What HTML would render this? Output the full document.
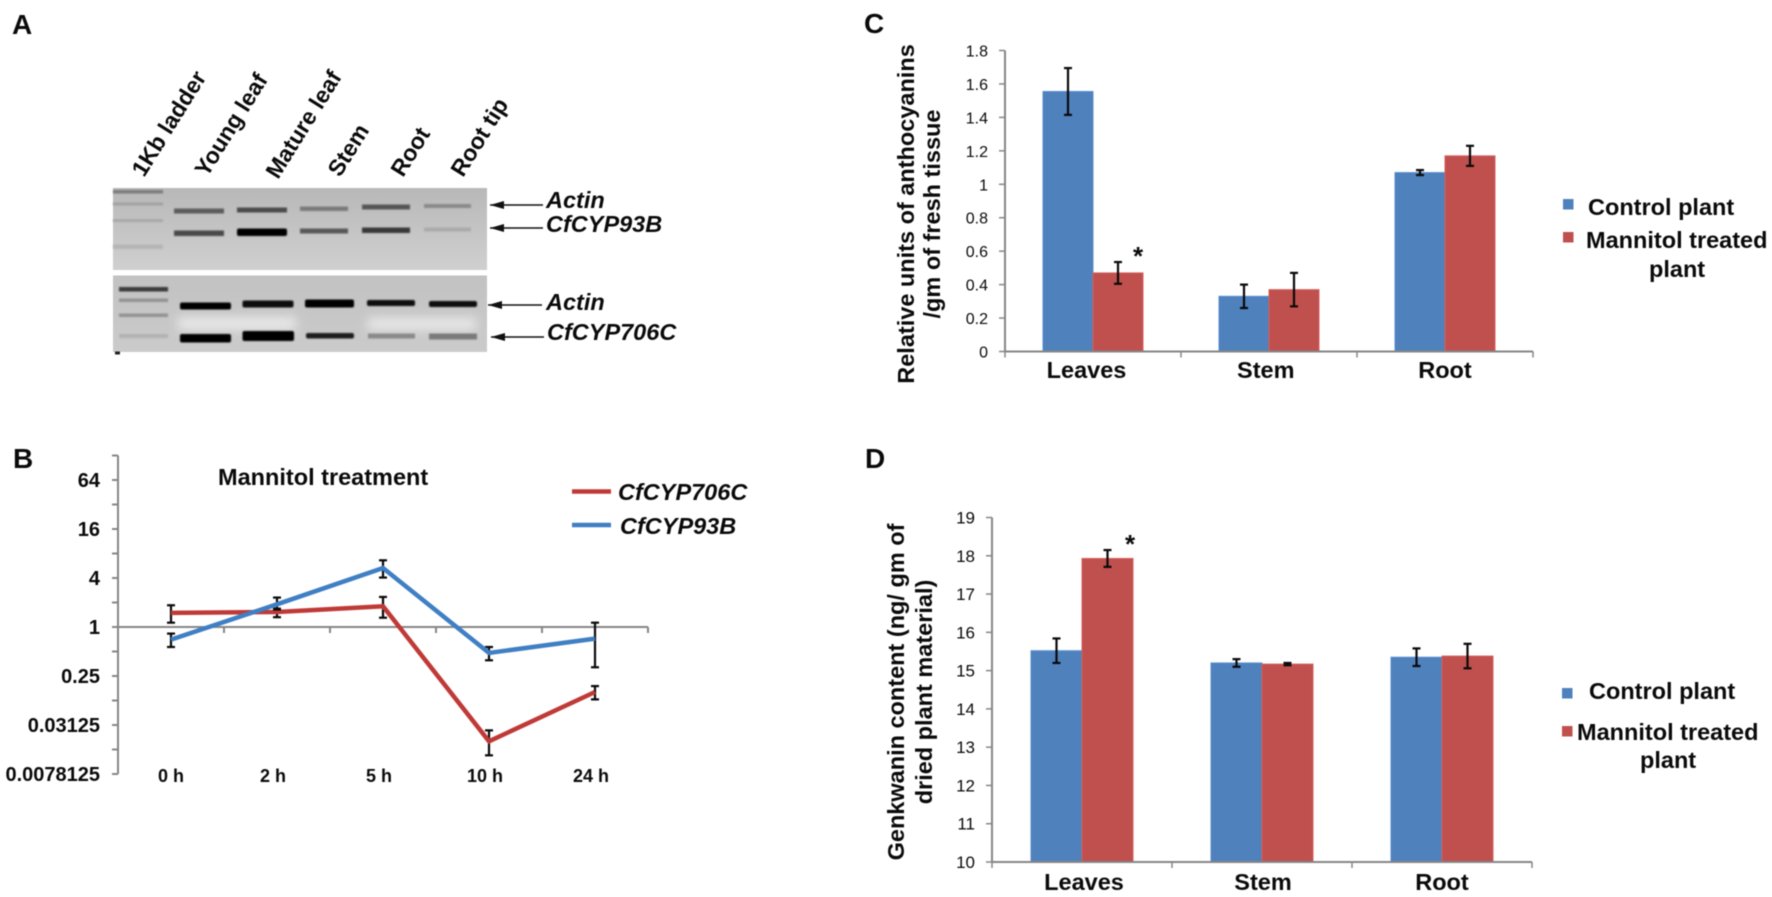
<!DOCTYPE html>
<html lang="en">
<head>
<meta charset="utf-8">
<title>Figure panels A-D</title>
<style>
html,body{margin:0;padding:0;background:#fff;width:1772px;height:897px;overflow:hidden}
svg{display:block;filter:blur(0.45px)}
text{font-family:"Liberation Sans",sans-serif;fill:#0a0a0a}
.b{font-weight:bold}
.bi{font-weight:bold;font-style:italic}
</style>
</head>
<body>
<svg id="fig" xmlns="http://www.w3.org/2000/svg" width="1772" height="897" viewBox="0 0 1772 897">
<defs>
<linearGradient id="gelTop" x1="0" y1="0" x2="0" y2="1"><stop offset="0" stop-color="#b8b8b8"/><stop offset="0.5" stop-color="#c4c4c4"/><stop offset="1" stop-color="#d0d0d0"/></linearGradient>
<linearGradient id="gelBot" x1="0" y1="0" x2="0" y2="1"><stop offset="0" stop-color="#c2c2c2"/><stop offset="1" stop-color="#cbcbcb"/></linearGradient>
<filter id="soft" x="-10%" y="-100%" width="120%" height="300%"><feGaussianBlur stdDeviation="0.8"/></filter>
<filter id="softer" x="-30%" y="-100%" width="160%" height="300%"><feGaussianBlur stdDeviation="5"/></filter>
<marker id="arrowHead" viewBox="0 0 14 8" refX="0" refY="4" markerWidth="14" markerHeight="8" markerUnits="userSpaceOnUse" orient="0"><path d="M0 4L14 0V8Z" fill="#111"/></marker>
</defs>

<g>
<text class="b" x="12" y="34" font-size="28">A</text>
<g font-size="23" class="b">
<text transform="translate(144,178) rotate(-58)">1Kb ladder</text>
<text transform="translate(207,178) rotate(-58)">Young leaf</text>
<text transform="translate(278,180) rotate(-58)">Mature leaf</text>
<text transform="translate(340,178) rotate(-58)">Stem</text>
<text transform="translate(403,178) rotate(-58)">Root</text>
<text transform="translate(463,178) rotate(-58)">Root tip</text>
</g>
<g>
<rect x="113" y="188" width="374" height="82" fill="url(#gelTop)"/>
<g filter="url(#soft)">
<rect x="113" y="190" width="50" height="3.5" fill="#7d7d7d"/>
<rect x="113" y="202.5" width="50" height="3" fill="#a2a2a2"/>
<rect x="113" y="219" width="50" height="3" fill="#a8a8a8"/>
<rect x="113" y="244.5" width="50" height="4.5" fill="#b6b6b6"/>
</g>
<g filter="url(#soft)">
<rect x="174" y="208.5" width="50" height="5" fill="#5c5c5c"/>
<rect x="237" y="207.5" width="50" height="5" fill="#4c4c4c"/>
<rect x="300" y="206.5" width="48" height="4.5" fill="#7a7a7a"/>
<rect x="362" y="204.5" width="48" height="5" fill="#555"/>
<rect x="424" y="204" width="47" height="4" fill="#8a8a8a"/>
</g>
<g filter="url(#soft)">
<rect x="174" y="230.5" width="50" height="5.5" fill="#4a4a4a"/>
<rect x="237" y="228.5" width="50" height="7.5" rx="2" fill="#060606"/>
<rect x="300" y="228.5" width="48" height="5" fill="#585858"/>
<rect x="362" y="227.5" width="48" height="5.5" fill="#383838"/>
<rect x="424" y="227.5" width="47" height="4" fill="#aaaaaa"/>
</g>
</g>
<g>
<rect x="113" y="275.5" width="374" height="76.5" fill="url(#gelBot)"/>
<g filter="url(#softer)" fill="#e8e8e8">
<rect x="178" y="317" width="118" height="13"/>
<rect x="368" y="318" width="108" height="12"/>
</g>
<g filter="url(#soft)">
<rect x="119" y="287" width="49" height="4.5" fill="#3a3a3a"/>
<rect x="119" y="298.5" width="49" height="3.5" fill="#939393"/>
<rect x="119" y="313.5" width="49" height="3.5" fill="#939393"/>
<rect x="119" y="334" width="49" height="4" fill="#b2b2b2"/>
</g>
<g filter="url(#soft)">
<rect x="180" y="302.5" width="51" height="7" rx="2" fill="#050505"/>
<rect x="242.5" y="300.5" width="51" height="7" rx="2" fill="#080808"/>
<rect x="305" y="299.5" width="49" height="8" rx="2" fill="#050505"/>
<rect x="367" y="300" width="48" height="6" rx="2" fill="#080808"/>
<rect x="429" y="301" width="48" height="6" rx="2" fill="#0c0c0c"/>
</g>
<g filter="url(#soft)">
<rect x="180" y="334" width="51" height="8.5" rx="2" fill="#030303"/>
<rect x="242.5" y="331" width="51.5" height="10" rx="2" fill="#030303"/>
<rect x="306" y="333" width="48" height="5.5" rx="2" fill="#1c1c1c"/>
<rect x="368" y="333.5" width="47" height="5" fill="#8a8a8a"/>
<rect x="429" y="333.5" width="48" height="6" fill="#7a7a7a"/>
</g>
<rect x="115" y="351.5" width="5" height="3" fill="#222"/>
</g>
<g stroke="#111" stroke-width="1.6">
<line x1="543" y1="205" x2="490" y2="205" marker-end="url(#arrowHead)"/>
<line x1="543" y1="228" x2="490" y2="228" marker-end="url(#arrowHead)"/>
<line x1="542" y1="305" x2="488" y2="305" marker-end="url(#arrowHead)"/>
<line x1="544" y1="337" x2="491" y2="337" marker-end="url(#arrowHead)"/>
</g>
<g class="bi" font-size="23.5">
<text x="546" y="208">Actin</text>
<text x="546" y="232">CfCYP93B</text>
<text x="546" y="310">Actin</text>
<text x="547" y="340">CfCYP706C</text>
</g>
</g>
</svg>
<script>
/* ---------- Panel B data ---------- */
const bCategories = ['0 h', '2 h', '5 h', '10 h', '24 h'];
const bSeriesRedName = 'CfCYP706C';
const bSeriesBlueName = 'CfCYP93B';
const bRedValues = [1.49, 1.53, 1.8, 0.0394, 0.159];
const bRedHigh = [1.85, 1.68, 2.34, 0.0537, 0.188];
const bRedLow = [1.13, 1.32, 1.30, 0.0265, 0.129];
const bBlueValues = [0.70, 1.9, 5.3, 0.48, 0.72];
const bBlueHigh = [0.83, 2.3, 6.6, 0.568, 1.13];
const bBlueLow = [0.568, 1.64, 4.05, 0.39, 0.32];
/* the printed labels follow the base-4 gridlines of the original axis */
const bTickExponents = [3, 2, 1, 0, -1, -2, -3];
const bTickLabels = ['64', '16', '4', '1', '0.25', '0.03125', '0.0078125'];

/* ---------- Panel C data ---------- */
const cCategories = ['Leaves', 'Stem', 'Root'];
const cControl = [1.555, 0.33, 1.07];
const cTreated = [0.47, 0.37, 1.17];
const cControlErr = [0.14, 0.07, 0.015];
const cTreatedErr = [0.065, 0.1, 0.06];
const cTicks = [0, 0.2, 0.4, 0.6, 0.8, 1, 1.2, 1.4, 1.6, 1.8];

/* ---------- Panel D data ---------- */
const dCategories = ['Leaves', 'Stem', 'Root'];
const dControl = [15.52, 15.2, 15.35];
const dTreated = [17.93, 15.17, 15.38];
const dControlErr = [0.32, 0.1, 0.23];
const dTreatedErr = [0.22, 0.03, 0.32];
const dTicks = [10, 11, 12, 13, 14, 15, 16, 17, 18, 19];

const NS = 'http://www.w3.org/2000/svg';
const fig = document.getElementById('fig');
function add(parent, tag, attrs, txt) {
  const el = document.createElementNS(NS, tag);
  for (const k in attrs) el.setAttribute(k, attrs[k]);
  if (txt !== undefined) el.textContent = txt;
  parent.appendChild(el);
  return el;
}
const AXIS = '#868686';
const BLUE = '#4f81bd';
const RED = '#c0504d';

function errorBar(parent, x, yHi, yLo, cap, name) {
  const g = add(parent, 'g', {stroke: '#0a0a0a', 'stroke-width': 2.2});
  
  
  const stem = add(g, 'line', {x1: x, x2: x, y1: yHi, y2: yLo});
  
  
  const top = add(g, 'line', {x1: x - cap, x2: x + cap, y1: yHi, y2: yHi});
  
  
  const bot = add(g, 'line', {x1: x - cap, x2: x + cap, y1: yLo, y2: yLo});
  
  
}

/* ---------- Panel B ---------- */
(function () {
  const panel = add(fig, 'g', {});
  
  
  const letter = add(panel, 'text', {x: 13, y: 468, 'font-size': 28, class: 'b'}, 'B');
  
  
  const title = add(panel, 'text', {x: 218, y: 485, 'font-size': 23.5, class: 'b'}, 'Mannitol treatment');
  
  

  const x0 = 118, catW = 106, yOne = 627, perStep = 49;
  const xPos = i => x0 + catW * (i + 0.5);
  const yExp = e => yOne - perStep * e;
  const yVal = v => yExp(Math.log(v) / Math.log(4));

  const yAxis = add(panel, 'line', {x1: x0, x2: x0, y1: yExp(3.5), y2: yExp(-3), stroke: AXIS, 'stroke-width': 2});
  
  
  const xAxis = add(panel, 'line', {x1: x0, x2: x0 + catW * bCategories.length, y1: yOne, y2: yOne, stroke: AXIS, 'stroke-width': 2});
  
  

  bTickExponents.forEach((e, i) => {
    const t = add(panel, 'line', {x1: x0 - 6, x2: x0, y1: yExp(e), y2: yExp(e), stroke: AXIS, 'stroke-width': 2});
    
    
    const m = add(panel, 'line', {x1: x0 - 6, x2: x0, y1: yExp(e + 0.5), y2: yExp(e + 0.5), stroke: AXIS, 'stroke-width': 2});
    
    
    const l = add(panel, 'text', {x: 100, y: yExp(e) + 7, 'text-anchor': 'end', 'font-size': 20, class: 'b'}, bTickLabels[i]);
    
    
  });
  for (let i = 1; i <= bCategories.length; i++) {
    const t = add(panel, 'line', {x1: x0 + catW * i, x2: x0 + catW * i, y1: yOne, y2: yOne + 6, stroke: AXIS, 'stroke-width': 2});
    
    
  }
  bCategories.forEach((c, i) => {
    const l = add(panel, 'text', {x: xPos(i) - (i > 0 ? 4 : 0), y: 782, 'text-anchor': 'middle', 'font-size': 18, class: 'b'}, c);
    
    
  });

  function series(vals, hi, lo, color, name) {
    const g = add(panel, 'g', {});
    
    
    vals.forEach((v, i) => errorBar(g, xPos(i), yVal(hi[i]), yVal(lo[i]), 4, 'error-bar'));
    const line = add(g, 'polyline', {
      points: vals.map((v, i) => xPos(i) + ',' + yVal(v)).join(' '),
      fill: 'none', stroke: color, 'stroke-width': 4.5, 'stroke-linejoin': 'miter'
    });
    
    
  }
  series(bRedValues, bRedHigh, bRedLow, '#bf3a37', 'series-cfcyp706c');
  series(bBlueValues, bBlueHigh, bBlueLow, '#3f7fc4', 'series-cfcyp93b');

  const r = add(panel, 'line', {x1: 572, x2: 611, y1: 491.5, y2: 491.5, stroke: '#bf3a37', 'stroke-width': 4.5});
  
  
  const rt = add(panel, 'text', {x: 618, y: 500, 'font-size': 23.5, class: 'bi'}, bSeriesRedName);
  
  
  const b = add(panel, 'line', {x1: 572, x2: 611, y1: 525, y2: 525, stroke: '#3f7fc4', 'stroke-width': 4.5});
  
  
  const bt = add(panel, 'text', {x: 620, y: 534, 'font-size': 23.5, class: 'bi'}, bSeriesBlueName);
  
  
})();

/* ---------- Bar panels C and D ---------- */
function barPanel(o) {
  const panel = add(fig, 'g', {});
  
  
  const letter = add(panel, 'text', {x: o.letterX, y: o.letterY, 'font-size': 28, class: 'b'}, o.letter);
  
  

  const yMin = o.ticks[0], yMax = o.ticks[o.ticks.length - 1];
  const y = v => o.yBottom - (v - yMin) * (o.yBottom - o.yTop) / (yMax - yMin);
  const cx = i => o.x0 + o.catW * (i + 0.5);

  o.ticks.forEach(t => {
    const tk = add(panel, 'line', {x1: o.x0 - 6, x2: o.x0, y1: y(t), y2: y(t), stroke: AXIS, 'stroke-width': 1.5});
    
    
    const l = add(panel, 'text', {x: o.x0 - 17, y: y(t) + 6, 'text-anchor': 'end', 'font-size': o.tickSize}, String(t));
    
    
  });

  o.categories.forEach((c, i) => {
    const b1 = add(panel, 'rect', {x: cx(i) - o.barW, y: y(o.control[i]), width: o.barW, height: y(yMin) - y(o.control[i]), fill: BLUE, stroke: '#5a8fd0', 'stroke-width': 1});
    
    
    const b2 = add(panel, 'rect', {x: cx(i), y: y(o.treated[i]), width: o.barW, height: y(yMin) - y(o.treated[i]), fill: RED, stroke: '#d4605c', 'stroke-width': 1});
    
    
    errorBar(panel, cx(i) - o.barW / 2, y(o.control[i] + o.controlErr[i]), y(o.control[i] - o.controlErr[i]), 4, 'error-bar-control');
    errorBar(panel, cx(i) + o.barW / 2, y(o.treated[i] + o.treatedErr[i]), y(o.treated[i] - o.treatedErr[i]), 4, 'error-bar-treated');
    const l = add(panel, 'text', {x: cx(i) + o.catNudge * (2 - i) / 2, y: o.catY, 'text-anchor': 'middle', 'font-size': 23.5, class: 'b'}, c);
    
    
  });

  const yAxis = add(panel, 'line', {x1: o.x0, x2: o.x0, y1: o.yTop, y2: o.yBottom, stroke: AXIS, 'stroke-width': 2});
  
  
  const xAxis = add(panel, 'line', {x1: o.x0, x2: o.x0 + o.catW * o.categories.length, y1: o.yBottom, y2: o.yBottom, stroke: AXIS, 'stroke-width': 2});
  
  
  for (let i = 0; i <= o.categories.length; i++) {
    const t = add(panel, 'line', {x1: o.x0 + o.catW * i, x2: o.x0 + o.catW * i, y1: o.yBottom, y2: o.yBottom + 6, stroke: AXIS, 'stroke-width': 1.5});
    
    
  }

  o.titles.forEach((t, i) => {
    const l = add(panel, 'text', {transform: 'translate(' + o.titleX[i] + ',' + o.titleY + ') rotate(-90)', 'text-anchor': 'middle', 'font-size': 23.5, class: 'b'}, t);
    
    
  });

  const star = add(panel, 'text', {x: cx(0) + o.barW + o.starDx, y: y(o.treated[0] + o.treatedErr[0]) + o.starDy, 'text-anchor': 'middle', 'font-size': 26, class: 'b'}, '*');
  
  

  const s1 = add(panel, 'rect', {x: o.leg.sx, y: o.leg.s1y, width: 10.5, height: 10.5, fill: BLUE});
  
  
  const s2 = add(panel, 'rect', {x: o.leg.sx, y: o.leg.s2y, width: 10.5, height: 10.5, fill: RED});
  
  
  const t1 = add(panel, 'text', {x: o.leg.cx, y: o.leg.cy, 'font-size': 23.5, class: 'b'}, 'Control plant');
  
  
  const t2 = add(panel, 'text', {x: o.leg.mx, y: o.leg.my, 'font-size': 23.5, class: 'b'}, 'Mannitol treated');
  
  
  const t3 = add(panel, 'text', {x: o.leg.px, y: o.leg.py, 'font-size': 23.5, class: 'b'}, 'plant');
  
  
}

barPanel({
  name: 'panel-c', letter: 'C', letterX: 864, letterY: 33,
  categories: cCategories, control: cControl, treated: cTreated,
  controlErr: cControlErr, treatedErr: cTreatedErr, ticks: cTicks,
  x0: 1005, catW: 176, barW: 50, yTop: 50.5, yBottom: 351.5, tickSize: 16, catY: 378, catNudge: -6.5,
  titles: ['Relative units of anthocyanins', '/gm of fresh tissue'], titleX: [914, 940], titleY: 214,
  starDx: -5, starDy: 3,
  leg: {sx: 1563, s1y: 199, s2y: 232, cx: 1588, cy: 215, mx: 1586, my: 248, px: 1649, py: 277}
});
barPanel({
  name: 'panel-d', letter: 'D', letterX: 865, letterY: 468,
  categories: dCategories, control: dControl, treated: dTreated,
  controlErr: dControlErr, treatedErr: dTreatedErr, ticks: dTicks,
  x0: 992, catW: 180, barW: 51, yTop: 517.5, yBottom: 862, tickSize: 17, catY: 890, catNudge: 2,
  titles: ['Genkwanin content (ng/ gm of', 'dried plant material)'], titleX: [904, 932], titleY: 692,
  starDx: -3, starDy: 3,
  leg: {sx: 1562, s1y: 688, s2y: 726, cx: 1589, cy: 699, mx: 1577, my: 740, px: 1640, py: 768}
});
</script>
</body>
</html>
